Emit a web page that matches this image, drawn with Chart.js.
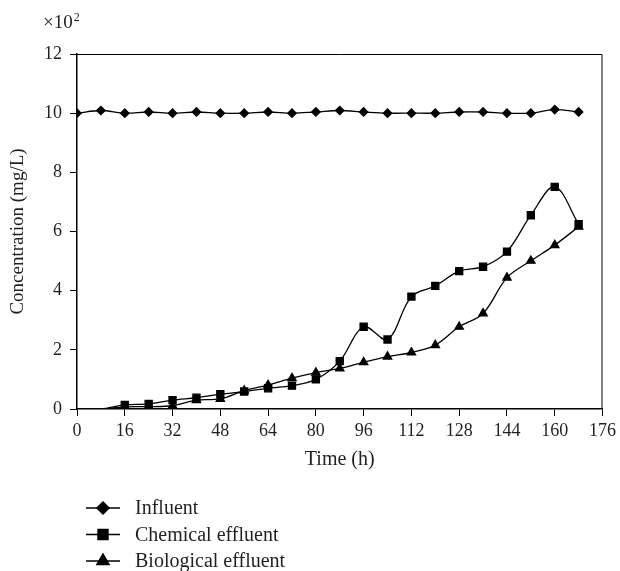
<!DOCTYPE html>
<html>
<head>
<meta charset="utf-8">
<script src="https://cdn.jsdelivr.net/npm/chart.js@4/dist/chart.umd.min.js"></script>
<style>
  html, body { margin: 0; padding: 0; background: #fff; }
  #wrap { width: 620px; height: 571px; }
</style>
</head>
<body>
<div id="wrap"><canvas id="chart"></canvas></div>
<script>
// time points (h)
const hours = [0, 8, 16, 24, 32, 40, 48, 56, 64, 72, 80, 88, 96, 104, 112, 120, 128, 136, 144, 152, 160, 168];

// concentrations, x10^2 mg/L
const influent = [10.0, 10.09, 10.0, 10.04, 10.0, 10.04, 10.0, 10.0, 10.04, 10.0, 10.04, 10.09,
                  10.04, 10.0, 10.0, 10.0, 10.04, 10.04, 10.0, 10.0, 10.12, 10.04];
const chemical = [0, 0, 0.14, 0.17, 0.3, 0.38, 0.5, 0.59, 0.7, 0.79, 1.0, 1.62,
                  2.78, 2.35, 3.8, 4.16, 4.66, 4.81, 5.32, 6.55, 7.51, 6.25];
const biological = [0, 0, 0.07, 0.08, 0.11, 0.3, 0.34, 0.62, 0.81, 1.04, 1.23, 1.37,
                    1.58, 1.77, 1.91, 2.16, 2.78, 3.23, 4.44, 5.01, 5.54, 6.16];

const xTicks = [0, 16, 32, 48, 64, 80, 96, 112, 128, 144, 160, 176];
const yTicks = [0, 2, 4, 6, 8, 10, 12];

const FONT = '"Liberation Serif", "DejaVu Serif", serif';
const TEXT = '#231f20';

function toPoints(arr) {
    return arr.map((v, i) => ({ x: hours[i], y: v }));
}

// no marker where the value sits on zero
function markerSize(r) {
    return ctx => (ctx.raw && ctx.raw.y === 0 ? 0 : r);
}

const extras = {
    id: 'extras',
    afterDraw(chart) {
        const { ctx, chartArea: a } = chart;
        ctx.save();
        // frame on top / right
        ctx.strokeStyle = '#000';
        ctx.lineWidth = 1;
        ctx.beginPath();
        ctx.moveTo(a.left, a.top + 0.5);
        ctx.lineTo(a.right - 0.5, a.top + 0.5);
        ctx.lineTo(a.right - 0.5, a.bottom);
        ctx.stroke();

        // x10^2 label
        ctx.fillStyle = TEXT;
        ctx.font = '19px ' + FONT;
        ctx.textBaseline = 'alphabetic';
        ctx.textAlign = 'left';
        ctx.fillText('×10', 43, 28);
        const w = ctx.measureText('×10').width;
        ctx.font = '12px ' + FONT;
        ctx.fillText('2', 43 + w + 1, 21);

        // legend, one row per dataset
        chart.data.datasets.forEach((ds, i) => {
            const y = 508 + i * 26.5;
            ctx.strokeStyle = '#000';
            ctx.lineWidth = 1.5;
            ctx.beginPath();
            ctx.moveTo(86, y);
            ctx.lineTo(120, y);
            ctx.stroke();
            ctx.fillStyle = '#000';
            Chart.helpers.drawPoint(ctx, {
                pointStyle: ds.pointStyle,
                radius: ds.legendRadius,
                borderWidth: 1
            }, 103, y);
            ctx.fillStyle = TEXT;
            ctx.font = '20px ' + FONT;
            ctx.textBaseline = 'middle';
            ctx.fillText(ds.label, 135, y + 1);
        });
        ctx.restore();
    }
};

const common = {
    borderColor: '#000',
    backgroundColor: '#000',
    pointBorderColor: '#000',
    pointBackgroundColor: '#000',
    borderWidth: 1.3,
    tension: 0.35,
    fill: false
};

new Chart(document.getElementById('chart'), {
    type: 'line',
    data: {
        datasets: [
            { ...common, label: 'Influent', data: toPoints(influent), pointStyle: 'rectRot', pointRadius: 4.2, legendRadius: 6 },
            { ...common, label: 'Chemical effluent', data: toPoints(chemical), pointStyle: 'rect', pointRadius: markerSize(5), legendRadius: 7 },
            { ...common, label: 'Biological effluent', data: toPoints(biological), pointStyle: 'triangle', pointRadius: markerSize(4.8), legendRadius: 7 }
        ]
    },
    options: {
        responsive: true,
        maintainAspectRatio: false,
        animation: false,
        layout: { padding: { left: 0, right: 17, top: 54, bottom: 95 } },
        plugins: {
            legend: { display: false },
            tooltip: { enabled: false }
        },
        scales: {
            x: {
                type: 'linear',
                min: 0,
                max: 176,
                afterBuildTicks: s => { s.ticks = xTicks.map(v => ({ value: v })); },
                afterFit: s => { s.height = 67; },
                border: { color: '#000', width: 1.5 },
                grid: { drawOnChartArea: false, drawTicks: true, tickLength: 7, color: '#000' },
                ticks: { color: TEXT, font: { family: FONT, size: 18 }, padding: 4, maxRotation: 0 },
                title: { display: true, text: 'Time (h)', color: TEXT, font: { family: FONT, size: 20 }, padding: { top: 2 } }
            },
            y: {
                min: 0,
                max: 12,
                afterBuildTicks: s => { s.ticks = yTicks.map(v => ({ value: v })); },
                afterFit: s => { s.width = 77; },
                border: { color: '#000', width: 1.5 },
                grid: { drawOnChartArea: false, drawTicks: true, tickLength: 7, color: '#000' },
                ticks: { color: TEXT, font: { family: FONT, size: 18 }, padding: 8 },
                title: { display: true, text: 'Concentration (mg/L)', color: TEXT, font: { family: FONT, size: 19 }, padding: { top: 7 } }
            }
        }
    },
    plugins: [extras]
});
</script>
</body>
</html>
